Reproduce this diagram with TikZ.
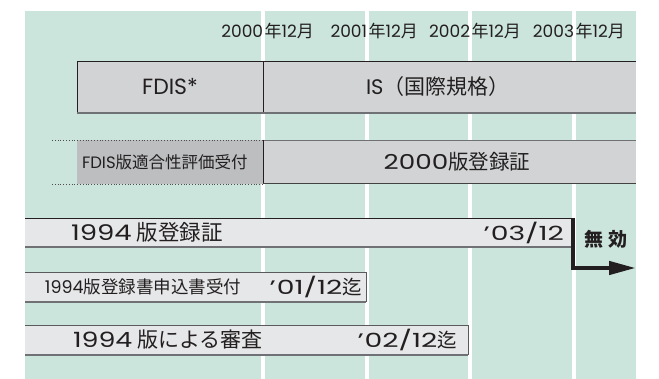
\documentclass[tikz,border=0pt]{standalone}
\usepackage{fontspec}
\setmainfont{Noto Sans CJK JP}
\newfontfamily\latf{Poppins}
\newfontfamily\latw{Poppins}[FakeStretch=1.28]
\newfontfamily\latx{Poppins}[FakeStretch=1.45]
\newcommand\latn[1]{{\latf #1}}
\newcommand\latd[1]{{\latw #1}}
\newcommand\latq[1]{{\latx #1}}
\usetikzlibrary{arrows.meta}
\definecolor{bggreen}{HTML}{CBE5DC}
\definecolor{boxgray}{HTML}{D1D3D4}
\definecolor{darkbox}{HTML}{BCBEC0}
\definecolor{lightbar}{HTML}{E6E7E8}
\definecolor{edgegray}{HTML}{707174}
\definecolor{ink}{HTML}{231F20}
\begin{document}
\begin{tikzpicture}[x=1pt,y=-1pt,
  box/.style={inner sep=0pt, outer sep=0pt, anchor=north west},
  hdr/.style={inner sep=0pt, outer sep=0pt, anchor=west, text=ink, font=\fontsize{17}{19}\selectfont},
  lbl/.style={inner sep=0pt, outer sep=0pt, text=ink},
  datefont/.style={font=\fontsize{19.5}{22}\selectfont},
  topedge/.style={draw=ink, line width=0.8pt},
  botedge/.style={draw=edgegray, line width=1.6pt},
  sideedge/.style={draw=ink, line width=0.8pt},
  gridline/.style={draw=white, line width=3.4pt},
  dotline/.style={draw=ink!80, line width=0.8pt, dotted}
]
\useasboundingbox (0,0) rectangle (659,379);
% background
\fill[bggreen] (25,11) rectangle (636,379);
\foreach \gx in {263,367,470,574} \draw[gridline] (\gx,11) -- (\gx,379);

% headers
\node[hdr] (h0) at (264.6,31) {\llap{\latn{2000}\hspace{1.5pt}}年\latn{12}月};
\node[hdr] (h1) at (368.6,31) {\llap{\latn{2001}\hspace{1.5pt}}年\latn{12}月};
\node[hdr] (h2) at (471.6,31) {\llap{\latn{2002}\hspace{1.5pt}}年\latn{12}月};
\node[hdr] (h3) at (575.6,31) {\llap{\latn{2003}\hspace{1.5pt}}年\latn{12}月};

% row 1
\node[box, fill=boxgray, minimum width=186pt, minimum height=52pt] (fdis) at (77,61) {};
\node[box, fill=boxgray, minimum width=373pt, minimum height=52pt] (is) at (263,61) {};
\draw[topedge] (fdis.north west) -- (is.north east);
\draw[sideedge] (fdis.south west) -- (fdis.north west);
\draw[sideedge] (fdis.north east) -- (fdis.south east);
\draw[botedge] (fdis.south west) -- (is.south east);
\node[lbl, font=\fontsize{22}{24}\selectfont] (fdist) at (170,87) {\latn{FDIS*}};
\node[lbl, anchor=west, font=\fontsize{21}{24}\selectfont] (ist) at (366,87) {\latn{IS}（国際規格）};

% row 2
\coordinate (d1) at (52,140);
\coordinate (d2) at (52,184);
\node[box, fill=darkbox, minimum width=186pt, minimum height=44pt] (acc) at (77,140) {};
\node[box, fill=boxgray, minimum width=373pt, minimum height=44pt] (reg) at (263,140) {};
\draw[dotline] (d1) -- (acc.north east);
\draw[dotline] (d2) -- (acc.south east);
\draw[draw=edgegray, line width=0.8pt] (reg.north west) -- (reg.north east);
\draw[sideedge] (reg.north west) -- (reg.south west);
\draw[draw=ink!85, line width=1pt] (reg.south west) -- (reg.south east);
\node[lbl, anchor=west, font=\fontsize{16.5}{19}\selectfont] (acct) at (82,162) {\latn{FDIS}版適合性評価受付};
\node[lbl, font=\fontsize{20.5}{24}\selectfont] (regt) at (457,162) {\latd{2000}版登録証};

% row 3
\node[box, fill=lightbar, minimum width=548pt, minimum height=29pt] (old) at (25,218) {};
\draw[topedge] (old.north west) -- (old.north east);
\draw[botedge] (old.south west) -- (old.south east);
\node[lbl, anchor=west, font=\fontsize{21.5}{24}\selectfont] (oldt) at (71,232.5) {\latd{1994} 版登録証};
\node[lbl, anchor=east, datefont] (oldd) at (564,232.5) {\latq{’\hspace{1pt}03/12}};
\coordinate (arrend) at (636,268);
\draw[draw=ink, line width=4.4pt, line join=miter, -{Triangle[length=27pt,width=13pt]}]
  (old.north east) -- (old.north east |- arrend) -- (arrend);
\node[lbl, font=\fontsize{19}{21}\selectfont\bfseries] (inv) at (605.5,239) {無\hspace{5pt}効};

% row 4
\node[box, fill=lightbar, minimum width=341pt, minimum height=30pt] (app) at (25,272) {};
\draw[draw=edgegray!80!black, line width=0.8pt] (app.north west) -- (app.north east) -- (app.south east);
\draw[botedge] (app.south west) -- (app.south east);
\node[lbl, anchor=west, font=\fontsize{17.5}{20}\selectfont] (appt) at (45,287) {\latn{1994}版登録書申込書受付};
\node[lbl, anchor=east, datefont] (appd) at (362,287) {\latq{’\hspace{1pt}01/12}迄};

% row 5
\node[box, fill=lightbar, minimum width=443pt, minimum height=30pt] (rev) at (25,325) {};
\draw[draw=edgegray!80!black, line width=0.8pt] (rev.north west) -- (rev.north east) -- (rev.south east);
\draw[botedge] (rev.south west) -- (rev.south east);
\node[lbl, anchor=west, font=\fontsize{21}{24}\selectfont] (revt) at (73,340) {\latd{1994} 版による審査};
\node[lbl, anchor=east, datefont] (revd) at (457,340) {\latq{’\hspace{1pt}02/12}迄};
\end{tikzpicture}
\end{document}
